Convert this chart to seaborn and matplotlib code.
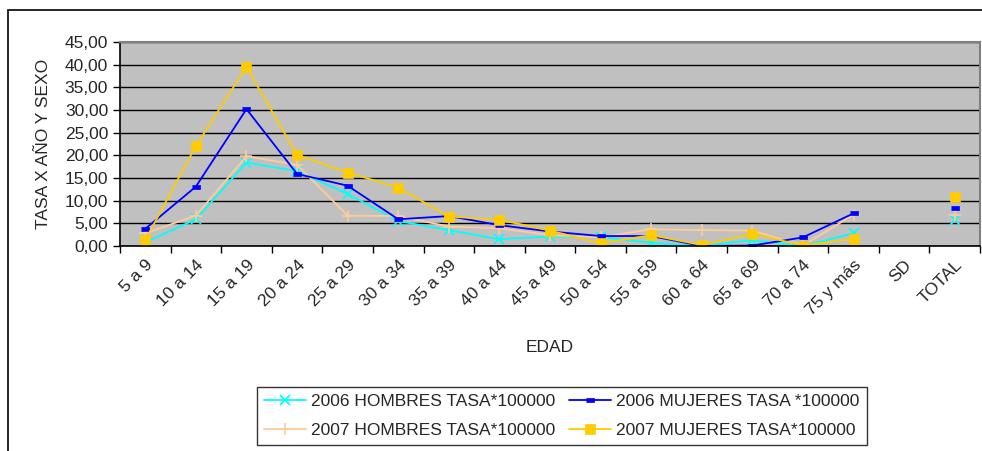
import numpy as np
import pandas as pd
import matplotlib
matplotlib.use("Agg")
import matplotlib.pyplot as plt
import seaborn as sns
from matplotlib.patches import Rectangle
from matplotlib.ticker import FuncFormatter, MultipleLocator, FixedLocator

# Categorias de edad
EDADES = ["5 a 9", "10 a 14", "15 a 19", "20 a 24", "25 a 29", "30 a 34", "35 a 39",
          "40 a 44", "45 a 49", "50 a 54", "55 a 59", "60 a 64", "65 a 69", "70 a 74",
          "75 y más", "SD", "TOTAL"]

# Tasas por 100000 (SD sin dato)
H_2006 = [0.8, 5.9, 18.4, 16.5, 11.5, 5.5, 3.5, 1.5, 2.1, 2.0, 0.7, 0.0, 1.3, 0.0, 2.8, np.nan, 5.8]
M_2006 = [3.8, 13.1, 30.2, 15.9, 13.3, 5.9, 6.6, 4.6, 3.2, 2.2, 2.2, 0.0, 0.1, 1.9, 7.2, np.nan, 8.3]
H_2007 = [2.8, 6.7, 19.8, 17.9, 6.7, 6.6, 4.3, 3.9, 2.4, 1.9, 3.7, 3.5, 3.4, 0.1, 6.9, np.nan, 6.9]
M_2007 = [1.3, 22.1, 39.5, 20.1, 16.2, 12.9, 6.5, 5.8, 3.4, 0.6, 2.4, 0.2, 2.7, 0.1, 1.6, np.nan, 10.8]

SERIES = [
    ("2006 HOMBRES TASA*100000", H_2006, "#00FFFF", "x", 7),
    ("2007 HOMBRES TASA*100000", H_2007, "#FFCC99", "+", 9),
    ("2006 MUJERES TASA *100000", M_2006, "#0000FF", [(-1, -0.5), (1, -0.5), (1, 0.5), (-1, 0.5)], 6),
    ("2007 MUJERES TASA*100000", M_2007, "#FFCC00", "s", 7),
]

FS = 12.5

sns.set_style("white")
plt.rcParams["font.family"] = ["Liberation Sans", "DejaVu Sans"]

fig = plt.figure(figsize=(9.82, 4.51), dpi=100)
ax = fig.add_axes([120 / 982, 1 - 246 / 451, 860 / 982, 204 / 451])
ax.set_facecolor("#C0C0C0")

pos = np.arange(len(EDADES))
n_edad = EDADES.index("SD")
handles = []
for name, vals, color, marker, ms in SERIES:
    df = pd.DataFrame({"x": pos, "y": vals})
    mew = 1.2 if marker in ("x", "+") else 0.5
    sns.lineplot(data=df.iloc[:n_edad], x="x", y="y", color=color, marker=marker,
                 markersize=ms, markeredgecolor=color, markeredgewidth=mew,
                 linewidth=1.3, ax=ax, estimator=None, legend=False)
    sns.lineplot(data=df.iloc[-1:], x="x", y="y", color=color, marker=marker,
                 markersize=ms, markeredgecolor=color, markeredgewidth=mew,
                 linewidth=1.3, ax=ax, estimator=None, legend=False)
    handles.append(plt.Line2D([], [], color=color, marker=marker, markersize=ms,
                              markeredgecolor=color, markeredgewidth=mew,
                              linewidth=1.3, label=name))

ax.set_xlim(-0.5, len(EDADES) - 0.5)
ax.set_ylim(0, 45)
ax.yaxis.set_major_locator(MultipleLocator(5))
ax.yaxis.set_major_formatter(FuncFormatter(lambda v, p: f"{v:.2f}".replace(".", ",")))
ax.grid(axis="y", color="black", linewidth=1.0)
ax.grid(axis="x", visible=False)
ax.set_axisbelow(True)

ax.set_xticks(pos)
ax.set_xticklabels(EDADES, rotation=45, ha="right", rotation_mode="anchor", fontsize=FS)
ax.xaxis.set_minor_locator(FixedLocator(np.arange(-0.5, len(EDADES), 1)))
ax.tick_params(axis="x", which="major", length=0, pad=8)
ax.tick_params(axis="x", which="minor", length=5, width=1, direction="out", color="black", bottom=True)
ax.tick_params(axis="y", length=5, width=1, direction="out", color="black", left=True, labelsize=FS)

for side in ("top", "right"):
    ax.spines[side].set_color("#808080")
    ax.spines[side].set_linewidth(1.5)
for side in ("left", "bottom"):
    ax.spines[side].set_color("black")
    ax.spines[side].set_linewidth(1.2)

ax.set_xlabel("EDAD", fontsize=FS, labelpad=16)
ax.set_ylabel("TASA X AÑO Y SEXO", fontsize=FS, labelpad=10)

leg = fig.legend(handles=handles, loc="center", ncol=2,
                 bbox_to_anchor=(562 / 982, 1 - 416 / 451),
                 frameon=True, fancybox=False, fontsize=FS, handlelength=2.4,
                 borderaxespad=0, columnspacing=0.8, handletextpad=0.3,
                 labelspacing=0.75, borderpad=0.45)
leg.get_frame().set_edgecolor("black")
leg.get_frame().set_linewidth(1.0)

# marco del grafico
fig.patches.append(Rectangle((8 / 982, -0.2), 1.2, 1.2 - 10 / 451, transform=fig.transFigure,
                             fill=False, edgecolor="black", linewidth=1.2))

fig.savefig("out.png", dpi=100)
